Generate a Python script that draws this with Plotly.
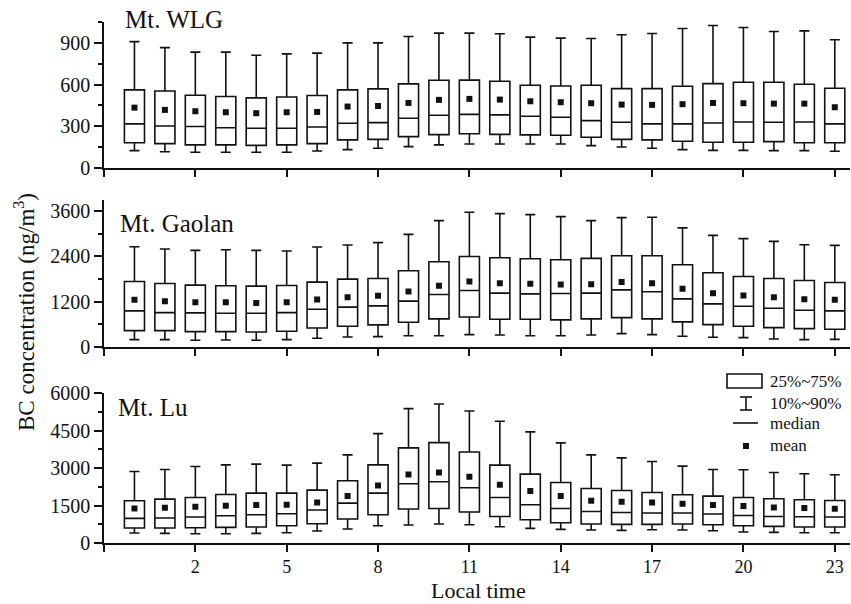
import plotly.graph_objects as go

hours = list(range(24))
x_tick_vals = [2, 5, 8, 11, 14, 17, 20, 23]
x_tick_text = ["2", "5", "8", "11", "14", "17", "20", "23"]
x_edge_tick = [-1]

site_names = ["Mt. WLG", "Mt. Gaolan", "Mt. Lu"]

# Mt. WLG
wlg_p10 = [125, 117, 113, 113, 113, 113, 122, 132, 142, 154, 166, 173, 173, 173, 173, 161, 151, 142, 132, 127, 127, 125, 125, 120]
wlg_q1 = [182, 175, 166, 166, 163, 166, 175, 202, 206, 226, 240, 246, 242, 238, 235, 221, 206, 202, 192, 185, 185, 190, 182, 182]
wlg_med = [317, 302, 298, 290, 286, 286, 295, 322, 326, 358, 379, 386, 382, 372, 365, 341, 329, 317, 317, 324, 331, 329, 331, 317]
wlg_q3 = [562, 554, 523, 514, 504, 511, 521, 562, 569, 605, 631, 632, 624, 595, 590, 595, 571, 571, 588, 607, 617, 617, 602, 574]
wlg_p90 = [909, 866, 833, 833, 811, 821, 826, 900, 900, 946, 970, 970, 965, 941, 934, 931, 958, 967, 1003, 1025, 1010, 982, 986, 922]
wlg_mean = [434, 418, 408, 401, 394, 401, 403, 442, 446, 468, 490, 497, 492, 480, 473, 466, 456, 454, 459, 468, 466, 463, 463, 437]

# Mt. Gaolan
gl_p10 = [187, 187, 170, 178, 170, 187, 224, 259, 267, 293, 293, 320, 312, 293, 293, 312, 347, 320, 277, 251, 240, 205, 187, 196]
gl_q1 = [427, 427, 400, 400, 392, 410, 499, 544, 579, 650, 739, 788, 731, 731, 712, 739, 773, 739, 659, 587, 544, 507, 480, 464]
gl_med = [952, 907, 898, 890, 890, 907, 997, 1051, 1085, 1211, 1387, 1494, 1424, 1405, 1414, 1424, 1512, 1459, 1272, 1139, 1077, 1024, 971, 952]
gl_q3 = [1734, 1680, 1637, 1619, 1610, 1628, 1717, 1797, 1814, 2019, 2259, 2396, 2365, 2339, 2312, 2347, 2419, 2419, 2179, 1966, 1867, 1814, 1760, 1707]
gl_p90 = [2659, 2597, 2560, 2579, 2560, 2544, 2651, 2704, 2766, 2987, 3352, 3574, 3539, 3512, 3459, 3352, 3432, 3441, 3158, 2960, 2872, 2800, 2712, 2694]
gl_mean = [1245, 1210, 1183, 1183, 1165, 1183, 1253, 1317, 1352, 1467, 1619, 1734, 1690, 1672, 1654, 1663, 1717, 1690, 1539, 1424, 1360, 1317, 1264, 1245]

# Mt. Lu
lu_p10 = [400, 387, 373, 373, 387, 413, 480, 560, 693, 720, 760, 733, 653, 585, 545, 520, 507, 533, 520, 493, 440, 427, 413, 413]
lu_q1 = [600, 600, 613, 627, 640, 693, 773, 960, 1133, 1360, 1385, 1240, 1065, 933, 813, 760, 745, 745, 760, 733, 693, 665, 640, 640]
lu_med = [985, 1000, 1040, 1093, 1133, 1173, 1320, 1600, 2000, 2373, 2453, 2213, 1825, 1533, 1385, 1265, 1225, 1200, 1200, 1160, 1105, 1065, 1053, 1040]
lu_q3 = [1693, 1760, 1825, 1945, 2000, 2000, 2120, 2493, 3133, 3813, 4025, 3645, 3120, 2760, 2425, 2185, 2105, 2025, 1933, 1880, 1825, 1773, 1733, 1705]
lu_p90 = [2864, 2945, 3065, 3133, 3160, 3120, 3200, 3533, 4385, 5385, 5573, 5290, 4880, 4453, 4013, 3533, 3413, 3265, 3080, 2945, 2933, 2825, 2773, 2733]
lu_mean = [1385, 1413, 1453, 1493, 1520, 1533, 1625, 1880, 2305, 2745, 2825, 2653, 2333, 2080, 1880, 1693, 1653, 1625, 1573, 1520, 1480, 1425, 1400, 1373]

y_ranges = [[0, 1050], [0, 3900], [0, 6000]]
y_dticks = [300, 1200, 1500]

legend_labels = ["25%~75%", "10%~90%", "median", "mean"]

FONT = "Liberation Serif, Times New Roman, serif"
INK = "#111111"

sites = [
    (wlg_p10, wlg_q1, wlg_med, wlg_q3, wlg_p90, wlg_mean),
    (gl_p10, gl_q1, gl_med, gl_q3, gl_p90, gl_mean),
    (lu_p10, lu_q1, lu_med, lu_q3, lu_p90, lu_mean),
]

fig = go.Figure()
for i, (p10, q1, med, q3, p90, mean) in enumerate(sites):
    sfx = "" if i == 0 else str(i + 1)
    fig.add_trace(go.Box(
        x=hours, q1=q1, median=med, q3=q3, lowerfence=p10, upperfence=p90,
        xaxis="x" + sfx, yaxis="y" + sfx, boxpoints=False,
        width=0.66, whiskerwidth=0.5, fillcolor="white",
        line=dict(color=INK, width=1.6), showlegend=False, hoverinfo="skip",
    ))
    fig.add_trace(go.Scatter(
        x=hours, y=mean, mode="markers", xaxis="x" + sfx, yaxis="y" + sfx,
        marker=dict(symbol="square", size=6, color=INK), showlegend=False,
    ))

W, H = 851, 604
ML, MR, MT, MB = 104, 1, 22, 61
PW, PH = W - ML - MR, H - MT - MB


def py(p):
    return (H - MB - p) / PH


def px(p):
    return (p - ML) / PW


domains = [[py(168), 1.0], [py(346.7), py(200)], [0.0, py(393.3)]]

layout = dict(
    width=W, height=H, margin=dict(l=ML, r=MR, t=MT, b=MB),
    plot_bgcolor="white", paper_bgcolor="white", boxmode="overlay",
    font=dict(family=FONT, size=20, color=INK), showlegend=False,
)
for i in range(3):
    sfx = "" if i == 0 else str(i + 1)
    layout["xaxis" + sfx] = dict(
        range=[-1, 23.5], anchor="y" + sfx, tickmode="array",
        tickvals=x_tick_vals, ticktext=x_tick_text, ticks="outside", ticklen=7,
        tickwidth=1.5, tickcolor=INK, showline=True, linewidth=1.6, linecolor=INK,
        minor=dict(tickmode="array", tickvals=x_edge_tick, ticks="outside", ticklen=7,
                   tickwidth=1.5, tickcolor=INK),
        showgrid=False, zeroline=False, showticklabels=(i == 2),
        tickfont=dict(size=18),
    )
    layout["yaxis" + sfx] = dict(
        range=y_ranges[i], domain=domains[i], anchor="x" + sfx, dtick=y_dticks[i],
        tick0=0, ticks="outside", ticklen=8, tickwidth=1.5, tickcolor=INK,
        minor=dict(dtick=y_dticks[i] / 2, ticks="outside", ticklen=4, tickwidth=1.5, tickcolor=INK),
        showline=True, linewidth=1.6, linecolor=INK, showgrid=False, zeroline=False,
        tickfont=dict(size=20),
    )

annotations = [
    dict(text="BC concentration (ng/m<sup>3</sup>)", xref="paper", yref="paper",
         x=px(24), y=py(312), textangle=-90, showarrow=False, font=dict(size=23),
         xanchor="center", yanchor="middle"),
    dict(text="Local time", xref="paper", yref="paper", x=px(478), y=py(590),
         showarrow=False, font=dict(size=22), xanchor="center", yanchor="middle"),
]
label_pos = [(123, 20), (118, 223), (116, 407)]
for name, (lx, ly) in zip(site_names, label_pos):
    annotations.append(dict(text=name, xref="paper", yref="paper", x=px(lx), y=py(ly),
                            showarrow=False, font=dict(size=25), xanchor="left", yanchor="middle"))

legend_y = [381, 403, 423, 446]
for lab, ly in zip(legend_labels, legend_y):
    annotations.append(dict(text=lab, xref="paper", yref="paper", x=px(768), y=py(ly),
                            showarrow=False, font=dict(size=17), xanchor="left", yanchor="middle"))
layout["annotations"] = annotations

lw = dict(color=INK, width=1.6)
shapes = [
    dict(type="rect", xref="paper", yref="paper", x0=px(727), x1=px(762), y0=py(388), y1=py(374), line=lw),
    dict(type="line", xref="paper", yref="paper", x0=px(746), x1=px(746), y0=py(410), y1=py(397), line=lw),
    dict(type="line", xref="paper", yref="paper", x0=px(740), x1=px(752), y0=py(397), y1=py(397), line=lw),
    dict(type="line", xref="paper", yref="paper", x0=px(740), x1=px(752), y0=py(410), y1=py(410), line=lw),
    dict(type="line", xref="paper", yref="paper", x0=px(733), x1=px(758), y0=py(423), y1=py(423), line=lw),
    dict(type="rect", xref="paper", yref="paper", x0=px(743), x1=px(749), y0=py(449), y1=py(443),
         line=dict(width=0), fillcolor=INK),
]
layout["shapes"] = shapes

fig.update_layout(**layout)
fig.write_html("out.html")
